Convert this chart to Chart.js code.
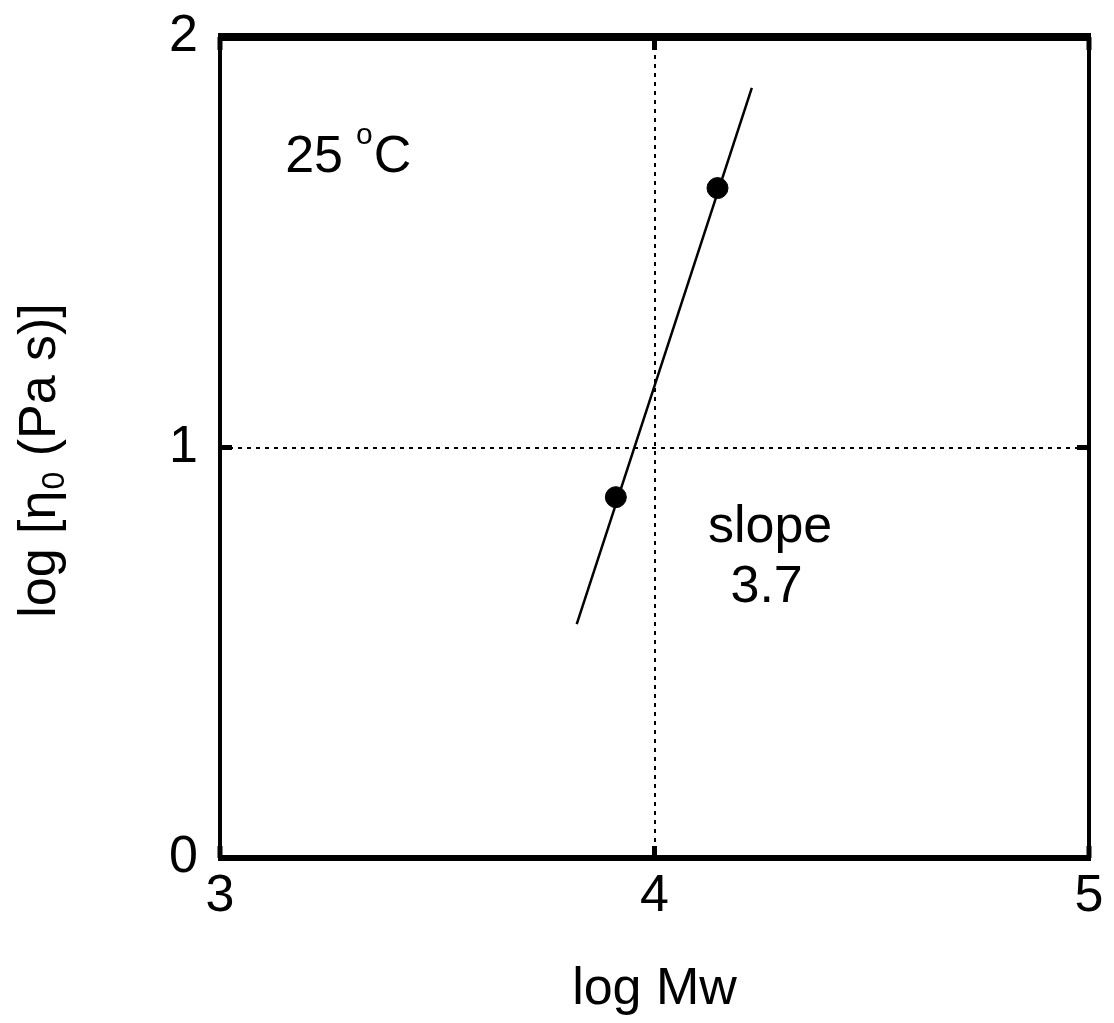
<!DOCTYPE html>
<html>
<head>
<meta charset="utf-8">
<script src="https://cdn.jsdelivr.net/npm/chart.js@4.4.1/dist/chart.umd.min.js"></script>
<style>
html,body{margin:0;padding:0;background:#fff;}
canvas{display:block;}
</style>
</head>
<body>
<canvas id="c" width="1114" height="1023"></canvas>
<script>
// ---- data ----
const xTicks = [3, 4, 5];
const yTicks = [0, 1, 2];
const pointsX = [3.911, 4.145];
const pointsY = [0.879, 1.632];
const fitX = [3.821, 4.224];
const fitY = [0.570, 1.876];
const xTitle = 'log Mw';
const yTitleParts = ['log [\u03B7', '0', ' (Pa s)]'];
const tempLabel = ['25', 'o', 'C'];
const tempPos = [3.15, 1.67];
const slopeLabel = ['slope', '3.7'];
const slopePos = [[4.266, 0.770], [4.258, 0.624]];

const FONT = '"Liberation Sans", Arial, Helvetica, sans-serif';

const framePlugin = {
  id: 'frame',
  afterDraw(chart) {
    const ctx = chart.ctx;
    const a = chart.chartArea;
    const xs = chart.scales.x, ys = chart.scales.y;
    ctx.save();
    ctx.strokeStyle = '#000';
    ctx.lineCap = 'butt';
    // frame
    ctx.lineWidth = 8;
    ctx.beginPath(); ctx.moveTo(a.left - 2, a.top); ctx.lineTo(a.right + 2, a.top); ctx.stroke();
    ctx.lineWidth = 6;
    ctx.beginPath(); ctx.moveTo(a.left - 2, a.bottom); ctx.lineTo(a.right + 2, a.bottom); ctx.stroke();
    ctx.lineWidth = 4;
    ctx.beginPath(); ctx.moveTo(a.left, a.top - 4); ctx.lineTo(a.left, a.bottom + 3); ctx.stroke();
    ctx.beginPath(); ctx.moveTo(a.right, a.top - 4); ctx.lineTo(a.right, a.bottom + 3); ctx.stroke();
    // inward ticks
    ctx.lineWidth = 5;
    xTicks.forEach(v => {
      const px = xs.getPixelForValue(v);
      ctx.beginPath(); ctx.moveTo(px, a.bottom); ctx.lineTo(px, a.bottom - 12); ctx.stroke();
      ctx.beginPath(); ctx.moveTo(px, a.top); ctx.lineTo(px, a.top + 13); ctx.stroke();
    });
    yTicks.forEach(v => {
      const py = ys.getPixelForValue(v);
      ctx.beginPath(); ctx.moveTo(a.left, py); ctx.lineTo(a.left + 12, py); ctx.stroke();
      ctx.beginPath(); ctx.moveTo(a.right, py); ctx.lineTo(a.right - 12, py); ctx.stroke();
    });
    // annotations
    ctx.fillStyle = '#000';
    ctx.textBaseline = 'alphabetic';
    ctx.textAlign = 'left';
    let tx = xs.getPixelForValue(tempPos[0]);
    const ty = ys.getPixelForValue(tempPos[1]);
    ctx.font = '52px ' + FONT;
    ctx.fillText(tempLabel[0], tx, ty);
    tx += ctx.measureText(tempLabel[0]).width + 13;
    ctx.font = '30px ' + FONT;
    ctx.fillText(tempLabel[1], tx, ty - 28);
    tx += ctx.measureText(tempLabel[1]).width + 1;
    ctx.font = '52px ' + FONT;
    ctx.fillText(tempLabel[2], tx, ty);
    ctx.textAlign = 'center';
    slopeLabel.forEach((s, i) => {
      ctx.fillText(s, xs.getPixelForValue(slopePos[i][0]), ys.getPixelForValue(slopePos[i][1]));
    });
    // y title with subscript
    ctx.save();
    ctx.translate(55, (a.top + a.bottom) / 2 + 13);
    ctx.rotate(-Math.PI / 2);
    ctx.textAlign = 'left';
    ctx.font = '52px ' + FONT;
    const w0 = ctx.measureText(yTitleParts[0]).width;
    ctx.font = '32px ' + FONT;
    const w1 = ctx.measureText(yTitleParts[1]).width;
    ctx.font = '52px ' + FONT;
    const w2 = ctx.measureText(yTitleParts[2]).width;
    let x0 = -(w0 + w1 + 2 + w2) / 2;
    ctx.fillText(yTitleParts[0], x0, 0);
    x0 += w0 + 1;
    ctx.font = '32px ' + FONT;
    ctx.fillText(yTitleParts[1], x0, 9);
    x0 += w1 + 1;
    ctx.font = '52px ' + FONT;
    ctx.fillText(yTitleParts[2], x0, 0);
    ctx.restore();
    ctx.restore();
  }
};

new Chart(document.getElementById('c'), {
  type: 'scatter',
  data: {
    datasets: [
      {
        label: 'fit',
        data: fitX.map((x, i) => ({x: x, y: fitY[i]})),
        showLine: true,
        borderColor: '#000',
        borderWidth: 2.5,
        pointRadius: 0,
        fill: false
      },
      {
        label: 'data',
        data: pointsX.map((x, i) => ({x: x, y: pointsY[i]})),
        pointRadius: 10.5,
        pointBackgroundColor: '#000',
        pointBorderColor: '#000',
        pointBorderWidth: 1,
        showLine: false
      }
    ]
  },
  options: {
    responsive: false,
    animation: false,
    devicePixelRatio: 1,
    layout: {padding: {top: 37, right: 25, left: 0, bottom: 0}},
    plugins: {legend: {display: false}, tooltip: {enabled: false}},
    scales: {
      x: {
        type: 'linear',
        min: 3, max: 5,
        afterFit(s) { s.height = 165; s.paddingLeft = 0; s.paddingRight = 0; },
        afterBuildTicks(s) { s.ticks = xTicks.map(v => ({value: v})); },
        ticks: {color: '#000', font: {family: FONT, size: 52}, padding: 7, maxRotation: 0},
        grid: {
          drawTicks: false,
          lineWidth: 2,
          color: ctx => (ctx.tick && ctx.tick.value === 4) ? '#000' : 'rgba(0,0,0,0)'
        },
        border: {display: false, dash: [4, 5]},
        title: {display: true, text: xTitle, color: '#000', font: {family: FONT, size: 52}, padding: {top: 0, bottom: 2}}
      },
      y: {
        type: 'linear',
        min: 0, max: 2,
        afterFit(s) { s.width = 220; s.paddingTop = 0; s.paddingBottom = 0; },
        afterBuildTicks(s) { s.ticks = yTicks.map(v => ({value: v})); },
        ticks: {color: '#000', font: {family: FONT, size: 52}, padding: 22},
        grid: {
          drawTicks: false,
          lineWidth: 2,
          color: ctx => (ctx.tick && ctx.tick.value === 1) ? '#000' : 'rgba(0,0,0,0)'
        },
        border: {display: false, dash: [4, 5]},
        title: {display: false}
      }
    }
  },
  plugins: [framePlugin]
});
</script>
</body>
</html>
